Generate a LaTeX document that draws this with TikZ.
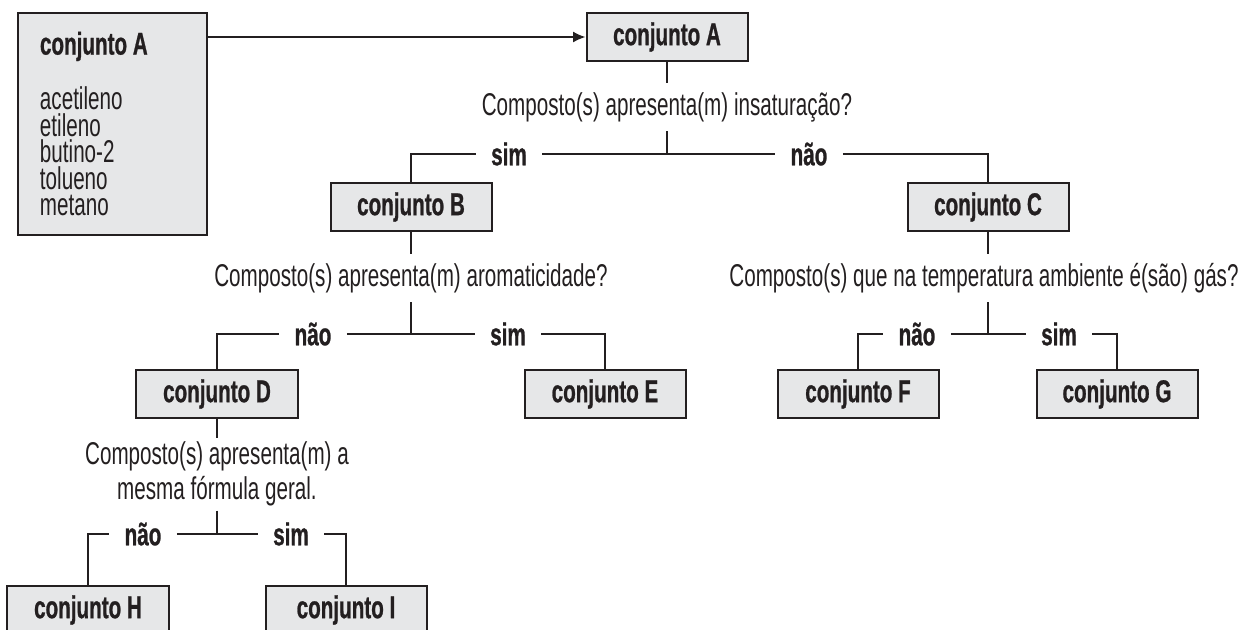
\documentclass[tikz,border=0pt]{standalone}
\usepackage{fontspec}
\setmainfont{Liberation Sans}[FakeStretch=0.655, BoldFeatures={FakeBold=0.8}]
\usetikzlibrary{arrows.meta}
\definecolor{boxgray}{RGB}{230,231,232}
\definecolor{inkgray}{RGB}{35,31,32}
\begin{document}
\begin{tikzpicture}[
    x=0.4pt, y=-0.4pt,
    every node/.style={align=center, text=inkgray, font=\fontsize{12.6}{14}\selectfont},
    set box/.style={draw=inkgray, line width=0.8pt, fill=boxgray, minimum width=64.4pt, minimum height=19.2pt, inner sep=0pt, font=\fontsize{12.6}{14}\selectfont\bfseries},
    big box/.style={set box, minimum width=75.6pt, minimum height=88.8pt, align=left, text width=58pt, font=\fontsize{12.6}{10.6}\selectfont},
    question/.style={inner sep=0pt, minimum height=18.8pt},
    answer/.style={inner ysep=0pt, inner xsep=6pt, text height=9pt, text depth=0pt, font=\fontsize{12.6}{14}\selectfont\bfseries},
    branch line/.style={draw=inkgray, line width=0.6pt},
    main arrow/.style={branch line, -{Latex[length=5pt,width=4.4pt]}},
    ]
\useasboundingbox (0,0) rectangle (1242,629);
% starting set
\node[big box] (bigA) at (112.5,124) {\hbox{\spaceskip=0pt\bfseries conjunto A}\\[9.4pt] acetileno\\ etileno\\ butino-2\\ tolueno\\ metano};
\node[set box] (setA) at (667,37) {conjunto A};
\draw[main arrow] (bigA.east |- setA.west) -- (setA.west);
% first question
\node[question] (qA) at (667,107) {Composto(s) apresenta(m) insaturação?};
\coordinate (jA) at (667,154);
\node[answer] (simA) at (509,154) {sim};
\node[answer] (naoA) at (809,154) {não};
\node[set box] (setB) at (411,207) {conjunto B};
\node[set box] (setC) at (988,207) {conjunto C};
\draw[branch line] (setA.south) -- (qA.north);
\draw[branch line] (qA.south) -- (jA);
\draw[branch line] (setB.north) |- (simA.west);
\draw[branch line] (simA.east) -- (naoA.west);
\draw[branch line] (naoA.east) -| (setC.north);
% second question, left
\node[question] (qB) at (411,278) {Composto(s) apresenta(m) aromaticidade?};
\coordinate (jB) at (411,334);
\node[answer] (naoB) at (313,334) {não};
\node[answer] (simB) at (508,334) {sim};
\node[set box] (setD) at (217,394) {conjunto D};
\node[set box] (setE) at (605,394) {conjunto E};
\draw[branch line] (setB.south) -- (qB.north);
\draw[branch line] (qB.south) -- (jB);
\draw[branch line] (setD.north) |- (naoB.west);
\draw[branch line] (naoB.east) -- (simB.west);
\draw[branch line] (simB.east) -| (setE.north);
% second question, right
\node[question] (qC) at (984,278) {Composto(s) que na temperatura ambiente é(são) gás?};
\coordinate (jC) at (988,334);
\node[answer] (naoC) at (917,334) {não};
\node[answer] (simC) at (1059,334) {sim};
\node[set box] (setF) at (858,394) {conjunto F};
\node[set box] (setG) at (1117,394) {conjunto G};
\draw[branch line] (setC.south) -- (setC.south |- qC.north);
\draw[branch line] (jC |- qC.south) -- (jC);
\draw[branch line] (setF.north) |- (naoC.west);
\draw[branch line] (naoC.east) -- (simC.west);
\draw[branch line] (simC.east) -| (setG.north);
% third question
\node[question, minimum height=28.8pt] (qD) at (217,474) {Composto(s) apresenta(m) a\\ mesma fórmula geral.};
\coordinate (jD) at (217,534);
\node[answer] (naoD) at (143,534) {não};
\node[answer] (simD) at (291,534) {sim};
\node[set box] (setH) at (88,610) {conjunto H};
\node[set box] (setI) at (346,610) {conjunto I};
\draw[branch line] (setD.south) -- (qD.north);
\draw[branch line] (qD.south) -- (jD);
\draw[branch line] (setH.north) |- (naoD.west);
\draw[branch line] (naoD.east) -- (simD.west);
\draw[branch line] (simD.east) -| (setI.north);
\end{tikzpicture}
\end{document}
